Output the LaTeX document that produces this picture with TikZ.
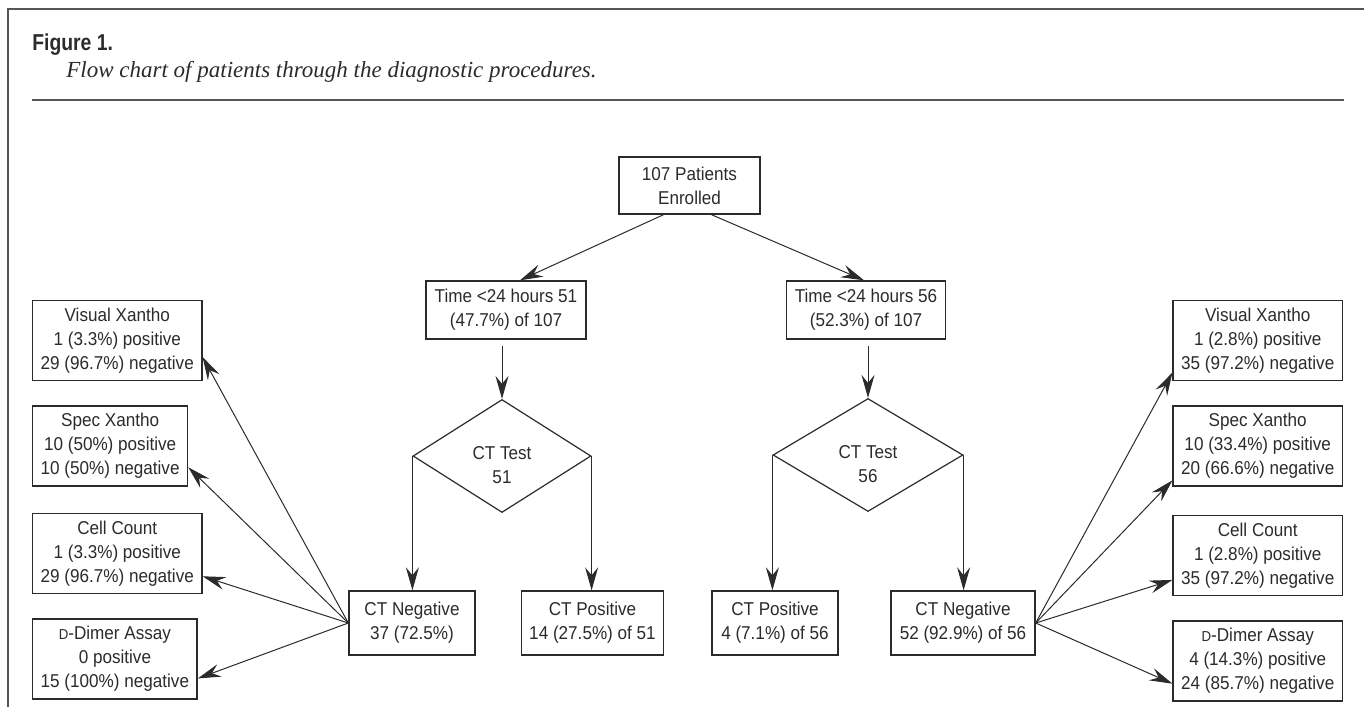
\documentclass[tikz,border=0pt]{standalone}
\usepackage{fontspec}
\newfontfamily\boxfont{Liberation Sans}[FakeStretch=0.92]
\newfontfamily\titlefont{Liberation Sans}[FakeStretch=0.84]
\newfontfamily\capfont{Liberation Serif}
\usetikzlibrary{arrows.meta,positioning,calc,shapes.geometric}
\definecolor{ink}{HTML}{2B2B2B}
\definecolor{rule}{HTML}{555555}
\newcommand\scD{{\fontsize{7.2}{12}\selectfont D}}
\tikzset{
  box/.style={draw=ink, line width=0.7pt, fill=white, inner xsep=4pt, inner ysep=2pt, font=\boxfont\fontsize{9.3}{12}\selectfont, text=ink, align=center},
  sidebox/.style={box, minimum height=40pt},
  midbox/.style={box, minimum height=29pt},
  ctbox/.style={box, minimum height=32pt},
  testbox/.style={diamond, draw=ink, line width=0.6pt, inner sep=0pt, minimum height=56.5pt},
  txt/.style={inner sep=0pt, font=\boxfont\fontsize{9.3}{12}\selectfont, text=ink, align=center},
  flow/.style={-{Stealth[length=11.5pt, width=6.5pt, inset=4pt]}, line width=0.5pt, draw=ink},
  frame/.style={draw=rule, line width=0.8pt},
}
\begin{document}
\begin{tikzpicture}[x=0.5pt, y=-0.5pt]
  \useasboundingbox (0,0) rectangle (1364,707);
  % frame and caption
  \draw[frame] (8,707) -- (8,9) -- (1364,9);
  \node[anchor=base west, inner sep=0pt, font=\titlefont\bfseries\fontsize{11.5}{13}\selectfont, text=ink] (figno) at (32,50) {Figure 1.};
  \node[anchor=base west, inner sep=0pt, font=\capfont\itshape\fontsize{11.5}{13}\selectfont, text=ink] (caption) at (66,77) {Flow chart of patients through the diagnostic procedures.};
  \draw[frame] (32,100) -- (1344,100);
  % main branch
  \node[midbox, minimum width=70.5pt, minimum height=28.5pt] (enrolled) at (689.5,185.5) {107 Patients\\Enrolled};
  \node[midbox, minimum width=80pt] (timeL) at (506,310) {Time <24 hours 51\\(47.7\%) of 107};
  \node[midbox, minimum width=77.5pt] (timeR) at (866,310) {Time <24 hours 56\\(52.3\%) of 107};
  \node[testbox, minimum width=89pt] (testL) at (502,456) {};
  \node[testbox, minimum width=95pt] (testR) at (868,455) {};
  \node[txt] (testLtxt) at ([yshift=-4.5pt]testL.center) {CT Test\\51};
  \node[txt] (testRtxt) at ([yshift=-4.5pt]testR.center) {CT Test\\56};
  \node[ctbox, minimum width=63pt] (negL) at (412,623) {CT Negative\\37 (72.5\%)};
  \node[ctbox, minimum width=70.5pt] (posL) at (592.5,623) {CT Positive\\14 (27.5\%) of 51};
  \node[ctbox, minimum width=63pt] (posR) at (775,623) {CT Positive\\4 (7.1\%) of 56};
  \node[ctbox, minimum width=72pt] (negR) at (963,623) {CT Negative\\52 (92.9\%) of 56};
  % left tests
  \node[sidebox, anchor=north west] (vxL) at (32,300) {Visual Xantho\\1 (3.3\%) positive\\29 (96.7\%) negative};
  \node[sidebox, below=12pt of vxL.south west, anchor=north west] (sxL) {Spec Xantho\\10 (50\%) positive\\10 (50\%) negative};
  \node[sidebox, below=13pt of sxL.south west, anchor=north west] (ccL) {Cell Count\\1 (3.3\%) positive\\29 (96.7\%) negative};
  \node[sidebox, below=12pt of ccL.south west, anchor=north west] (ddL) {\scD-Dimer Assay\\0 positive\\15 (100\%) negative};
  % right tests
  \node[sidebox, anchor=north east] (vxR) at (1343,300) {Visual Xantho\\1 (2.8\%) positive\\35 (97.2\%) negative};
  \node[sidebox, below=12pt of vxR.south east, anchor=north east] (sxR) {Spec Xantho\\10 (33.4\%) positive\\20 (66.6\%) negative};
  \node[sidebox, below=14pt of sxR.south east, anchor=north east] (ccR) {Cell Count\\1 (2.8\%) positive\\35 (97.2\%) negative};
  \node[sidebox, below=12pt of ccR.south east, anchor=north east] (ddR) {\scD-Dimer Assay\\4 (14.3\%) positive\\24 (85.7\%) negative};
  % connectors
  \draw[flow] ([xshift=-13pt]enrolled.south) -- ([xshift=7pt]timeL.north);
  \draw[flow] ([xshift=11pt]enrolled.south) -- ([xshift=-1pt]timeR.north);
  \draw[flow, shorten <=3pt] (testL.north |- timeL.south) -- (testL.north);
  \draw[flow, shorten <=3pt] (testR.north |- timeR.south) -- (testR.north);
  \draw[flow] (testL.west) -- (testL.west |- negL.north);
  \draw[flow] (testL.east) -- (testL.east |- posL.north);
  \draw[flow] (testR.west) -- (testR.west |- posR.north);
  \draw[flow] (testR.east) -- (testR.east |- negR.north);
  \draw[flow] (negL.west) -- ($(vxL.south east)!0.3!(vxL.north east)$);
  \draw[flow] (negL.west) -- ($(sxL.south east)!0.24!(sxL.north east)$);
  \draw[flow] (negL.west) -- ($(ccL.south east)!0.22!(ccL.north east)$);
  \draw[flow] (negL.west) -- ($(ddL.south east)!0.26!(ddL.north east)$);
  \draw[flow] (negR.east) -- ($(vxR.south west)!0.11!(vxR.north west)$);
  \draw[flow] (negR.east) -- ($(sxR.south west)!0.08!(sxR.north west)$);
  \draw[flow] (negR.east) -- ($(ccR.south west)!0.2!(ccR.north west)$);
  \draw[flow] (negR.east) -- ($(ddR.south west)!0.22!(ddR.north west)$);
\end{tikzpicture}
\end{document}
